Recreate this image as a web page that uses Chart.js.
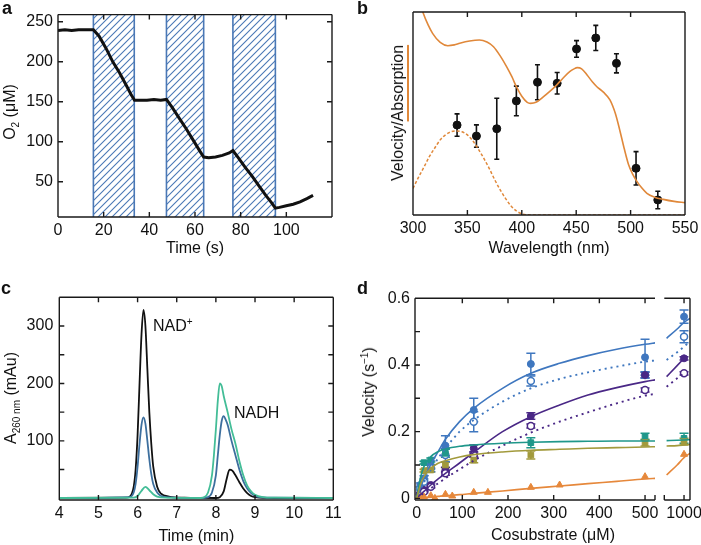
<!DOCTYPE html>
<html>
<head>
<meta charset="utf-8">
<script src="https://cdn.jsdelivr.net/npm/chart.js@4.4.1/dist/chart.umd.min.js"></script>
<style>
  html, body { margin: 0; padding: 0; background: #fff; }
  body { position: relative; width: 701px; height: 545px; overflow: hidden;
         font-family: "Liberation Sans", Arial, sans-serif; color: #111; }
  canvas { position: absolute; left: 0; top: 0; }
  .panel { position: absolute; font-size: 18px; font-weight: bold; line-height: 1; }
  .lbl { position: absolute; font-size: 16px; line-height: 1; white-space: nowrap; }
  .ytitle { position: absolute; font-size: 16px; line-height: 1; white-space: nowrap;
            transform: translate(-50%, -50%) rotate(-90deg); }
  .xtitle { position: absolute; font-size: 16px; line-height: 1; white-space: nowrap;
            transform: translate(-50%, -50%); }
  sub, sup { font-size: 10px; line-height: 0; }
  .absorb { text-decoration: underline; text-decoration-color: #e0883a;
            text-decoration-thickness: 1.5px; text-underline-offset: 4px; }
</style>
</head>
<body>
<canvas id="chartA" width="760" height="545"></canvas>
<canvas id="chartB" width="760" height="545"></canvas>
<canvas id="chartC" width="760" height="545"></canvas>
<canvas id="chartD" width="760" height="545"></canvas>
<canvas id="chartDBreak" width="760" height="545"></canvas>

<div class="panel" style="left:2px;top:-1px">a</div>
<div class="panel" style="left:357px;top:-1px">b</div>
<div class="panel" style="left:1px;top:279px">c</div>
<div class="panel" style="left:357px;top:279px">d</div>

<div class="ytitle" style="left:10px;top:112px">O<sub>2</sub> (μM)</div>
<div class="ytitle" style="left:398px;top:113px">Velocity/<span class="absorb">Absorption</span></div>
<div class="ytitle" style="left:11px;top:398px">A<sub>260 nm</sub> (mAu)</div>
<div class="ytitle" style="left:369px;top:392px">Velocity (s<sup>−1</sup>)</div>
<div class="xtitle" style="left:553px;top:535px">Cosubstrate (μM)</div>

<div class="lbl" style="left:153px;top:318px">NAD<sup>+</sup></div>
<div class="lbl" style="left:234px;top:405px">NADH</div>

<script>
/* ---------- panel a : O2 trace ---------- */
const timeS = [0, 3, 6, 9, 12, 15.5, 18, 21, 24, 27, 30, 32, 33.5, 36, 39, 42, 45, 47.5,
               50, 53, 56, 59, 62, 63.8, 66, 69, 72, 75, 76.6, 79, 82, 85, 88, 91, 93.5,
               95.2, 97, 100, 103, 106, 109, 111.7];
const o2uM = [239, 240, 239, 240, 240, 240, 232, 217, 200, 186, 170, 159, 152, 152, 152, 153, 152, 153,
              143, 130, 117, 103, 89, 81, 80, 81, 83, 86, 89, 80, 68, 57, 45, 33, 24,
              17, 18, 20, 22, 25, 29, 33];
const lightStart = [15.5, 47.5, 76.6];
const lightEnd = [33.4, 63.8, 95.2];
const aTimeTicks = [0, 20, 40, 60, 80, 100];
const aO2Ticks = [50, 100, 150, 200, 250];

/* ---------- panel b : action spectrum ---------- */
const absNm = [300, 305, 309, 314, 318, 325, 332, 338, 343, 352, 361, 368, 374, 380, 386, 391,
               395, 400, 405, 408, 413, 420, 426, 432, 438, 444, 448, 451, 455, 460, 465, 469,
               475, 481, 486, 490, 494, 498, 502, 505, 510, 515, 522, 530, 540, 550];
const absSolid = [1.18, 1.07, 1.0, 0.935, 0.895, 0.85, 0.834, 0.838, 0.846, 0.857, 0.862, 0.852, 0.829, 0.785, 0.731, 0.68,
                  0.632, 0.585, 0.555, 0.55, 0.555, 0.583, 0.61, 0.64, 0.675, 0.706, 0.72, 0.726, 0.72, 0.69, 0.655, 0.632,
                  0.605, 0.567, 0.5, 0.419, 0.33, 0.25, 0.2, 0.172, 0.135, 0.107, 0.088, 0.077, 0.067, 0.061];
const nadNm = [300, 305, 310, 315, 320, 325, 330, 335, 340, 345, 350, 355, 360, 365, 370, 375,
               380, 385, 390, 395, 400, 405, 410, 550];
const nadAbs = [0.131, 0.185, 0.235, 0.287, 0.33, 0.37, 0.395, 0.41, 0.414, 0.41, 0.395, 0.365, 0.325, 0.28, 0.23, 0.175,
                0.125, 0.082, 0.045, 0.02, 0.006, 0.001, 0, 0];
const velNm = [340.5, 358.3, 377, 395, 414.4, 432.5, 450.3, 468, 487, 505, 525];
const velRel = [0.443, 0.389, 0.425, 0.562, 0.654, 0.649, 0.818, 0.872, 0.747, 0.23, 0.074];
const velErr = [0.055, 0.055, 0.15, 0.073, 0.086, 0.053, 0.041, 0.062, 0.047, 0.082, 0.043];
const bNmTicks = [300, 350, 400, 450, 500, 550];

/* ---------- panel c : HPLC traces ---------- */
const blackMin = [4, 5.7, 5.8, 5.9, 5.95, 6.0, 6.05, 6.1, 6.15, 6.2, 6.25, 6.3, 6.35, 6.4, 6.5, 6.6, 6.8, 7.2,
                  8.0, 8.1, 8.2, 8.28, 8.35, 8.42, 8.5, 8.6, 8.7, 8.8, 8.9, 9.0, 9.5, 11];
const blackA = [0.5, 1, 3, 20, 50, 110, 200, 285, 328, 300, 225, 150, 95, 55, 20, 8, 3, 1,
                0.5, 2, 12, 35, 50, 48, 40, 28, 17, 9, 4, 2, 0.5, 0.5];
const blueMin = [4, 5.8, 5.9, 5.95, 6.0, 6.05, 6.1, 6.15, 6.2, 6.25, 6.3, 6.35, 6.4, 6.5, 6.6, 6.8,
                 7.6, 7.8, 7.9, 8.0, 8.05, 8.1, 8.15, 8.2, 8.25, 8.3, 8.4, 8.5, 8.6, 8.7, 8.8, 8.9, 9.0, 9.2, 9.5, 11];
const blueA = [0.5, 2, 10, 25, 55, 95, 128, 141, 130, 100, 68, 42, 25, 10, 4, 1.5,
               0.5, 2, 10, 40, 75, 110, 135, 143, 137, 128, 100, 75, 50, 30, 17, 9, 4, 1.5, 1, 0.5];
const greenMin = [4, 5.9, 6.0, 6.1, 6.2, 6.3, 6.4, 6.5, 6.7, 7.6, 7.7, 7.8, 7.9, 7.95, 8.0, 8.05, 8.1, 8.15,
                  8.2, 8.3, 8.4, 8.5, 8.6, 8.7, 8.8, 8.9, 9.0, 9.2, 9.5, 11];
const greenA = [0.5, 1, 4, 13, 20, 14, 7, 3, 1, 0.5, 2, 10, 40, 75, 120, 170, 200, 195,
                178, 150, 120, 95, 65, 40, 22, 12, 6, 2, 1, 0.5];
const cMinTicks = [4, 5, 6, 7, 8, 9, 10, 11];
const cAbsTicks = [100, 200, 300];

/* ---------- panel d : kinetics ---------- */
const conc = [8, 16, 31, 63, 125, 250, 500, 1000];
const blueFilled = [0.04, 0.06, 0.1, 0.158, 0.265, 0.403, 0.423, 0.545];
const blueFilledErr = [0.006, 0.008, 0.012, 0.03, 0.035, 0.032, 0.054, 0.02];
const blueOpen = [0.03, 0.05, 0.09, 0.13, 0.23, 0.352, 0.37, 0.485];
const blueOpenErr = [0.005, 0.008, 0.01, 0.02, 0.03, 0.015, 0.01, 0.018];
const purpleFilled = [0.015, 0.025, 0.04, 0.085, 0.15, 0.247, 0.37, 0.42];
const purpleFilledErr = [0.003, 0.004, 0.006, 0.008, 0.01, 0.01, 0.008, 0.005];
const purpleOpen = [0.012, 0.02, 0.035, 0.075, 0.13, 0.217, 0.325, 0.375];
const purpleOpenErr = [0.002, 0.003, 0.004, 0.006, 0.006, 0.006, 0.006, 0.005];
const concSq = [16, 31, 63, 125, 250, 500, 1000];
const tealSq = [0.107, 0.115, 0.135, null, 0.167, 0.185, 0.18];
const tealSqErr = [0.004, 0.006, 0.012, 0, 0.015, 0.01, 0.015];
const oliveSq = [0.083, 0.085, 0.1, 0.115, 0.13, 0.167, 0.17];
const oliveSqErr = [0.004, 0.006, 0.008, 0.008, 0.012, 0.01, 0.01];
const concTri = [8, 16, 31, 40, 63, 78, 125, 156, 250, 313, 500, 1000];
const orangeTri = [0.005, 0.004, 0.008, 0.0, 0.012, 0.007, 0.018, 0.018, 0.033, 0.04, 0.065, 0.132];

const fitX = [0, 8, 16, 31, 47, 63, 94, 125, 188, 250, 313, 375, 438, 500, 525];
const fitBlue = [0, 0.03, 0.058, 0.102, 0.14, 0.177, 0.23, 0.27, 0.33, 0.375, 0.405, 0.428, 0.447, 0.462, 0.467];
const fitBlueDot = [0, 0.025, 0.048, 0.086, 0.12, 0.15, 0.2, 0.235, 0.29, 0.33, 0.358, 0.378, 0.395, 0.41, 0.414];
const fitPurple = [0, 0.011, 0.021, 0.04, 0.058, 0.075, 0.106, 0.138, 0.2, 0.245, 0.28, 0.31, 0.332, 0.35, 0.356];
const fitPurpleDot = [0, 0.008, 0.016, 0.03, 0.045, 0.06, 0.087, 0.113, 0.158, 0.197, 0.23, 0.258, 0.285, 0.308, 0.314];
const fitTeal = [0, 0.06, 0.095, 0.125, 0.14, 0.148, 0.156, 0.16, 0.165, 0.168, 0.17, 0.171, 0.172, 0.172, 0.172];
const fitOlive = [0, 0.04, 0.065, 0.09, 0.105, 0.113, 0.124, 0.131, 0.139, 0.144, 0.147, 0.15, 0.152, 0.154, 0.155];
const fitOrange = [0, 0.001, 0.002, 0.004, 0.006, 0.008, 0.011, 0.015, 0.022, 0.03, 0.037, 0.044, 0.051, 0.058, 0.06];

const fitBreakX = [962, 985, 1000, 1013];
const breakBlue = [0.48, 0.508, 0.528, 0.54];
const breakBlueDot = [0.415, 0.438, 0.455, 0.47];
const breakPurple = [0.365, 0.398, 0.42, null];
const breakPurpleDot = [0.335, 0.36, 0.375, null];
const breakTeal = [0.173, 0.174, 0.175, 0.176];
const breakOlive = [0.157, 0.158, 0.16, 0.162];
const breakOrange = [0.07, 0.1, 0.122, 0.135];

const dConcTicks = [0, 100, 200, 300, 400, 500];
const dVelTicks = [0, 0.2, 0.4, 0.6];
const dVelMinor = [0, 0.1, 0.2, 0.3, 0.4, 0.5, 0.6];

/* ---------- shared setup ---------- */
const FONT = '"Liberation Sans", Arial, sans-serif';
const CW = 760, CH = 545;
Chart.defaults.font.family = FONT;
Chart.defaults.font.size = 16;
Chart.defaults.color = '#111';
Chart.defaults.animation = false;
Chart.defaults.responsive = false;
Chart.defaults.devicePixelRatio = 1;
Chart.defaults.plugins.legend.display = false;
Chart.defaults.plugins.tooltip.enabled = false;

const BLUE = '#3f77bf', PURPLE = '#4a2886', TEAL = '#1f978a', OLIVE = '#a29a3c', ORANGE = '#e6883b';

function pts(xs, ys) { return xs.map((x, i) => ({ x: x, y: ys[i] })); }

// chart area placed at fixed page coordinates
function area(L, T, R, B, yW, xH) {
  return { left: L - yW, top: T, right: CW - R, bottom: CH - B - xH };
}
function fixSize(w, h) {
  return function (scale) { if (w != null) scale.width = w; if (h != null) scale.height = h; };
}
function useTicks(vals) {
  return function (scale) { scale.ticks = vals.map(v => ({ value: v })); };
}
function xAxis(min, max, ticks, xH, title) {
  return {
    type: 'linear', min: min, max: max,
    grid: { display: false, drawTicks: false }, border: { display: false },
    afterBuildTicks: useTicks(ticks), afterFit: fixSize(null, xH),
    ticks: { padding: 4, maxRotation: 0, autoSkip: false, callback: v => String(v) },
    title: { display: !!title, text: title || '', padding: 0 }
  };
}
function yAxis(min, max, ticks, yW, pad) {
  return {
    min: min, max: max, display: ticks != null,
    grid: { display: false, drawTicks: false }, border: { display: false },
    afterBuildTicks: useTicks(ticks || []), afterFit: fixSize(yW, null),
    ticks: { padding: pad, autoSkip: false, callback: v => String(v) }
  };
}

/* frame + inward ticks */
const framePlugin = {
  id: 'frame',
  afterDatasetsDraw(chart, args, o) {
    const a = chart.chartArea, ctx = chart.ctx;
    const x = chart.scales.x, y = chart.scales.y;
    const sides = o.sides || 'ltrb';
    const len = 5;
    ctx.save();
    ctx.strokeStyle = '#1a1a1a';
    ctx.lineWidth = 1.4;
    ctx.beginPath();
    if (sides.includes('l')) { ctx.moveTo(a.left, a.top); ctx.lineTo(a.left, a.bottom); }
    if (sides.includes('r')) { ctx.moveTo(a.right, a.top); ctx.lineTo(a.right, a.bottom); }
    if (sides.includes('t')) { ctx.moveTo(a.left, a.top); ctx.lineTo(a.right, a.top); }
    if (sides.includes('b')) { ctx.moveTo(a.left, a.bottom); ctx.lineTo(a.right, a.bottom); }
    (o.xTicks || []).forEach(v => {
      const px = x.getPixelForValue(v);
      if (sides.includes('b')) { ctx.moveTo(px, a.bottom); ctx.lineTo(px, a.bottom - len); }
      if (sides.includes('t') && o.topTicks !== false) { ctx.moveTo(px, a.top); ctx.lineTo(px, a.top + len); }
    });
    (o.yTicks || []).forEach(v => {
      const py = y.getPixelForValue(v);
      if (sides.includes('l')) { ctx.moveTo(a.left, py); ctx.lineTo(a.left + len, py); }
      if (sides.includes('r')) { ctx.moveTo(a.right, py); ctx.lineTo(a.right - len, py); }
    });
    (o.caps || []).forEach(c => {
      const px = c === 'r' ? a.right : a.left;
      ctx.moveTo(px, a.bottom); ctx.lineTo(px, a.bottom - len);
    });
    ctx.stroke();
    ctx.restore();
  }
};

/* vertical error bars read from dataset.errors */
const errorBarPlugin = {
  id: 'errorBars',
  beforeDatasetsDraw(chart, args, o) {
    const a = chart.chartArea, ctx = chart.ctx;
    const x = chart.scales.x, y = chart.scales.y;
    const cap = o.cap || 3;
    ctx.save();
    chart.data.datasets.forEach(ds => {
      if (!ds.errors) return;
      ctx.strokeStyle = ds.errorColor || ds.pointBorderColor || ds.borderColor;
      ctx.lineWidth = o.width || 1.5;
      ds.data.forEach((p, j) => {
        const e = ds.errors[j];
        if (p.y == null || !e) return;
        const px = x.getPixelForValue(p.x);
        if (px < a.left - 2 || px > a.right + 2) return;
        const y0 = y.getPixelForValue(p.y - e), y1 = y.getPixelForValue(p.y + e);
        ctx.beginPath();
        ctx.moveTo(px, y0); ctx.lineTo(px, y1);
        ctx.moveTo(px - cap, y0); ctx.lineTo(px + cap, y0);
        ctx.moveTo(px - cap, y1); ctx.lineTo(px + cap, y1);
        ctx.stroke();
      });
    });
    ctx.restore();
  }
};

/* hatched light periods */
const hatchPlugin = {
  id: 'hatch',
  beforeDatasetsDraw(chart, args, o) {
    if (!o.starts) return;
    const a = chart.chartArea, ctx = chart.ctx, x = chart.scales.x;
    const tile = document.createElement('canvas');
    tile.width = 7; tile.height = 7;
    const t = tile.getContext('2d');
    t.strokeStyle = '#4a78b6';
    t.lineWidth = 1.1;
    t.beginPath();
    t.moveTo(0, 7); t.lineTo(7, 0);
    t.moveTo(-1, 1); t.lineTo(1, -1);
    t.moveTo(6, 8); t.lineTo(8, 6);
    t.stroke();
    const pattern = ctx.createPattern(tile, 'repeat');
    ctx.save();
    o.starts.forEach((s, i) => {
      const x0 = x.getPixelForValue(s), x1 = x.getPixelForValue(o.ends[i]);
      ctx.fillStyle = pattern;
      ctx.fillRect(x0, a.top, x1 - x0, a.bottom - a.top);
      ctx.strokeStyle = '#4a78b6';
      ctx.lineWidth = 1.6;
      ctx.beginPath();
      ctx.moveTo(x0, a.top); ctx.lineTo(x0, a.bottom);
      ctx.moveTo(x1, a.top); ctx.lineTo(x1, a.bottom);
      ctx.stroke();
    });
    ctx.restore();
  }
};

Chart.register(framePlugin, errorBarPlugin, hatchPlugin);

/* ---------- panel a ---------- */
new Chart(document.getElementById('chartA'), {
  type: 'line',
  data: {
    datasets: [{
      data: pts(timeS, o2uM), borderColor: '#111', borderWidth: 3, pointRadius: 0, tension: 0
    }]
  },
  options: {
    layout: { padding: area(58, 12, 332, 217, 58, 41) },
    scales: {
      x: xAxis(0, 120, aTimeTicks, 41, 'Time (s)'),
      y: yAxis(6, 259, aO2Ticks, 58, 5)
    },
    plugins: {
      frame: { xTicks: [20, 40, 60, 80, 100], yTicks: aO2Ticks },
      hatch: { starts: lightStart, ends: lightEnd }
    }
  }
});

/* ---------- panel b ---------- */
new Chart(document.getElementById('chartB'), {
  type: 'line',
  data: {
    datasets: [
      { data: pts(absNm, absSolid), borderColor: '#e0883a', borderWidth: 1.6, pointRadius: 0,
        cubicInterpolationMode: 'monotone' },
      { data: pts(nadNm, nadAbs), borderColor: '#e0883a', borderWidth: 1.5, borderDash: [3, 2],
        pointRadius: 0, cubicInterpolationMode: 'monotone' },
      { data: pts(velNm, velRel), errors: velErr, showLine: false, borderColor: '#111',
        pointBackgroundColor: '#111', pointBorderColor: '#111', pointRadius: 4 }
    ]
  },
  options: {
    layout: { padding: area(413, 12, 685, 215, 0, 43) },
    scales: {
      x: xAxis(300, 550, bNmTicks, 43, 'Wavelength (nm)'),
      y: { min: 0, max: 1, display: false }
    },
    plugins: {
      frame: { xTicks: [350, 400, 450, 500] },
      errorBars: { cap: 2.5, width: 1.6 }
    }
  }
});

/* ---------- panel c ---------- */
const traceStyle = { borderWidth: 1.8, pointRadius: 0, cubicInterpolationMode: 'monotone' };
new Chart(document.getElementById('chartC'), {
  type: 'line',
  data: {
    datasets: [
      Object.assign({ data: pts(greenMin, greenA), borderColor: '#43bd97' }, traceStyle),
      Object.assign({ data: pts(blueMin, blueA), borderColor: '#3d6f9e' }, traceStyle),
      Object.assign({ data: pts(blackMin, blackA), borderColor: '#111' }, traceStyle)
    ]
  },
  options: {
    layout: { padding: area(59.3, 297.3, 333.3, 500, 59.3, 46) },
    scales: {
      x: xAxis(4, 11, cMinTicks, 46, 'Time (min)'),
      y: yAxis(-3, 350, cAbsTicks, 59.3, 6)
    },
    plugins: {
      frame: { xTicks: [5, 6, 7, 8, 9, 10], yTicks: [50, 100, 150, 200, 250, 300] }
    }
  }
});

/* ---------- panel d ---------- */
function fitLine(xs, ys, color, dotted) {
  return { data: pts(xs, ys), borderColor: color, borderWidth: dotted ? 1.9 : 1.6,
           borderDash: dotted ? [2, 4] : [], pointRadius: 0, cubicInterpolationMode: 'monotone',
           spanGaps: false };
}
function markers(xs, ys, errs, color, style, open) {
  return { data: pts(xs, ys), errors: errs, showLine: false, borderColor: color,
           pointStyle: style, pointRadius: style === 'circle' ? 3.5 : 4,
           pointBackgroundColor: open ? '#fff' : color, pointBorderColor: color,
           pointBorderWidth: open ? 1.5 : 1 };
}
function pointSets() {
  return [
    markers(concTri, orangeTri, null, ORANGE, 'triangle', false),
    markers(concSq, oliveSq, oliveSqErr, OLIVE, 'rect', false),
    markers(concSq, tealSq, tealSqErr, TEAL, 'rect', false),
    markers(conc, purpleOpen, purpleOpenErr, PURPLE, 'circle', true),
    markers(conc, purpleFilled, purpleFilledErr, PURPLE, 'circle', false),
    markers(conc, blueOpen, blueOpenErr, BLUE, 'circle', true),
    markers(conc, blueFilled, blueFilledErr, BLUE, 'circle', false)
  ];
}

new Chart(document.getElementById('chartD'), {
  type: 'line',
  data: {
    datasets: [
      fitLine(fitX, fitOrange, ORANGE, false),
      fitLine(fitX, fitOlive, OLIVE, false),
      fitLine(fitX, fitTeal, TEAL, false),
      fitLine(fitX, fitPurpleDot, PURPLE, true),
      fitLine(fitX, fitPurple, PURPLE, false),
      fitLine(fitX, fitBlueDot, BLUE, true),
      fitLine(fitX, fitBlue, BLUE, false)
    ].concat(pointSets())
  },
  options: {
    layout: { padding: area(415, 298.3, 655, 500, 30, 30) },
    scales: {
      x: xAxis(-3.6, 521.8, dConcTicks, 30, ''),
      y: yAxis(-0.005, 0.6, dVelTicks, 30, 5)
    },
    plugins: {
      frame: { sides: 'ltb', xTicks: [100, 200, 300, 400, 500], yTicks: dVelMinor, caps: ['r'] },
      errorBars: { cap: 4.5, width: 1.5 }
    }
  }
});

new Chart(document.getElementById('chartDBreak'), {
  type: 'line',
  data: {
    datasets: [
      fitLine(fitBreakX, breakOrange, ORANGE, false),
      fitLine(fitBreakX, breakOlive, OLIVE, false),
      fitLine(fitBreakX, breakTeal, TEAL, false),
      fitLine(fitBreakX, breakPurpleDot, PURPLE, true),
      fitLine(fitBreakX, breakPurple, PURPLE, false),
      fitLine(fitBreakX, breakBlueDot, BLUE, true),
      fitLine(fitBreakX, breakBlue, BLUE, false)
    ].concat(pointSets())
  },
  options: {
    layout: { padding: area(664.3, 298.3, 690, 500, 0, 30) },
    scales: {
      x: xAxis(957, 1013, [1000], 30, ''),
      y: { min: -0.005, max: 0.6, display: false }
    },
    plugins: {
      frame: { sides: 'trb', xTicks: [1000], caps: ['l'] },
      errorBars: { cap: 4.5, width: 1.5 }
    }
  }
});
</script>
</body>
</html>
